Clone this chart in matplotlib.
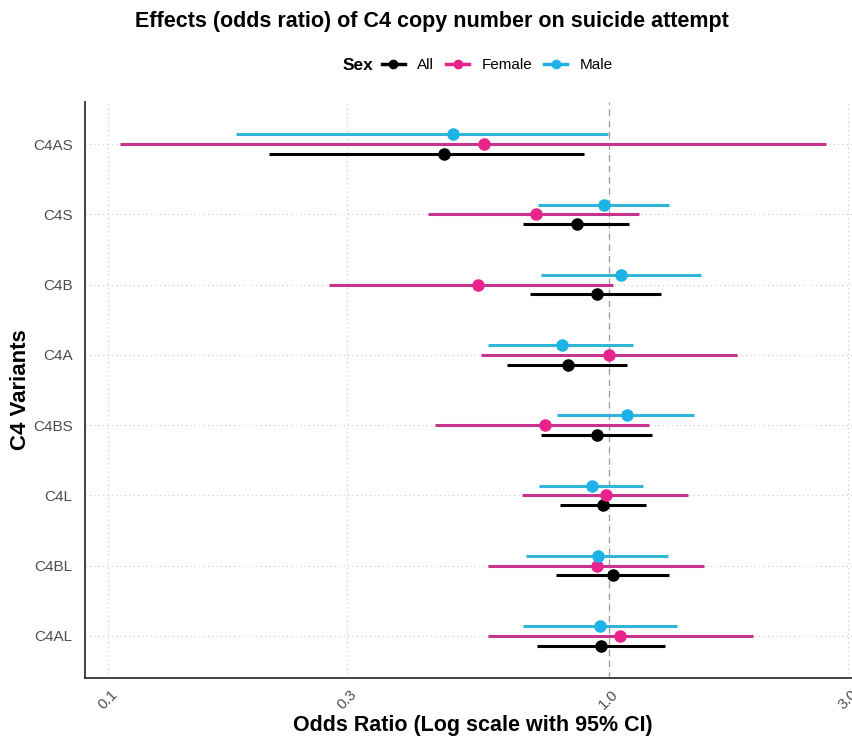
import numpy as np
import matplotlib
matplotlib.use("Agg")
import matplotlib.pyplot as plt
from matplotlib.lines import Line2D

plt.rcParams['font.family'] = ['Liberation Sans', 'DejaVu Sans']

variants = ['C4AS', 'C4S', 'C4B', 'C4A', 'C4BS', 'C4L', 'C4BL', 'C4AL']

# odds ratio, lower CI, upper CI per group (same order as variants)
all_or = [0.470, 0.863, 0.948, 0.830, 0.948, 0.976, 1.020, 0.967]
all_lo = [0.210, 0.673, 0.698, 0.626, 0.733, 0.799, 0.786, 0.719]
all_hi = [0.891, 1.100, 1.270, 1.090, 1.218, 1.187, 1.316, 1.297]

fem_or = [0.565, 0.716, 0.548, 1.000, 0.745, 0.989, 0.947, 1.053]
fem_lo = [0.106, 0.435, 0.276, 0.557, 0.451, 0.671, 0.574, 0.573]
fem_hi = [2.710, 1.150, 1.020, 1.800, 1.204, 1.440, 1.550, 1.940]

male_or = [0.489, 0.978, 1.056, 0.807, 1.088, 0.927, 0.953, 0.962]
male_lo = [0.180, 0.724, 0.733, 0.573, 0.789, 0.726, 0.685, 0.674]
male_hi = [0.998, 1.320, 1.530, 1.116, 1.480, 1.170, 1.310, 1.366]

groups = ['All', 'Female', 'Male']
dot_colors = {'All': '#000000', 'Female': '#E8238C', 'Male': '#1FB2E6'}
line_colors = {'All': '#000000', 'Female': '#C8338F', 'Male': '#32B6D8'}
offsets = {'All': -0.14, 'Female': 0.0, 'Male': 0.14}
data = {
    'All': (all_or, all_lo, all_hi),
    'Female': (fem_or, fem_lo, fem_hi),
    'Male': (male_or, male_lo, male_hi),
}

fig = plt.figure(figsize=(8.52, 7.43), dpi=100)
ax = fig.add_axes([85 / 852, 1 - 678 / 743, (861 - 85) / 852, (678 - 102) / 743])

ypos = np.arange(len(variants))[::-1]

for g in groups:
    o, lo, hi = data[g]
    y = ypos + offsets[g]
    ax.hlines(y, lo, hi, color=line_colors[g], lw=2.2, zorder=3)
    ax.plot(o, y, 'o', color=dot_colors[g], ms=8, zorder=4)

ax.axvline(1, color='#9a9a9a', ls=(0, (5, 4)), lw=0.9, zorder=2)

ax.set_xscale('log')
allvals = np.log10(np.concatenate([all_lo, all_hi, fem_lo, fem_hi, male_lo, male_hi]))
rng = allvals.max() - allvals.min()
ax.set_xlim(10 ** (allvals.min() - 0.05 * rng), 10 ** (allvals.max() + 0.05 * rng))
ax.set_ylim(-0.6, len(variants) - 0.4)

xt = [0.1, 0.3, 1.0, 3.0]
ax.set_xticks(xt)
ax.set_xticklabels(['0.1', '0.3', '1.0', '3.0'], rotation=45, ha='center', va='top')
ax.xaxis.set_minor_locator(matplotlib.ticker.NullLocator())
ax.set_yticks(ypos)
ax.set_yticklabels(variants)
ax.tick_params(axis='both', length=0, labelsize=11, labelcolor='#4d4d4d')
ax.tick_params(axis='y', pad=9)
ax.tick_params(axis='x', pad=7)

ax.grid(True, color='#d0d0d0', ls=(0, (1, 2.5)), lw=0.9)
ax.set_axisbelow(True)
for s in ['top', 'right']:
    ax.spines[s].set_visible(False)
for s in ['left', 'bottom']:
    ax.spines[s].set_color('#333333')
    ax.spines[s].set_linewidth(1.3)

ax.set_xlabel('Odds Ratio (Log scale with 95% CI)', fontsize=15.5, fontweight='bold', labelpad=2)
ax.set_ylabel('C4 Variants', fontsize=16, fontweight='bold')
ax.yaxis.set_label_coords(-0.069, 0.5)

fig.text(0.507, 1 - 21 / 743, 'Effects (odds ratio) of C4 copy number on suicide attempt',
         ha='center', va='center', fontsize=15.5, fontweight='bold')

fig.text(373 / 852, 1 - 65 / 743, 'Sex', ha='right', va='center', fontsize=12.5, fontweight='bold')
handles = [Line2D([0], [0], color=dot_colors[g], lw=2.5, marker='o', ms=6) for g in groups]
fig.legend(handles, groups, loc='center left', bbox_to_anchor=(382 / 852, 1 - 65 / 743),
           ncol=3, frameon=False, fontsize=11, handlelength=1.5, handletextpad=0.8,
           columnspacing=0.8, borderaxespad=0, borderpad=0.0)

fig.savefig('out.png', dpi=100)
